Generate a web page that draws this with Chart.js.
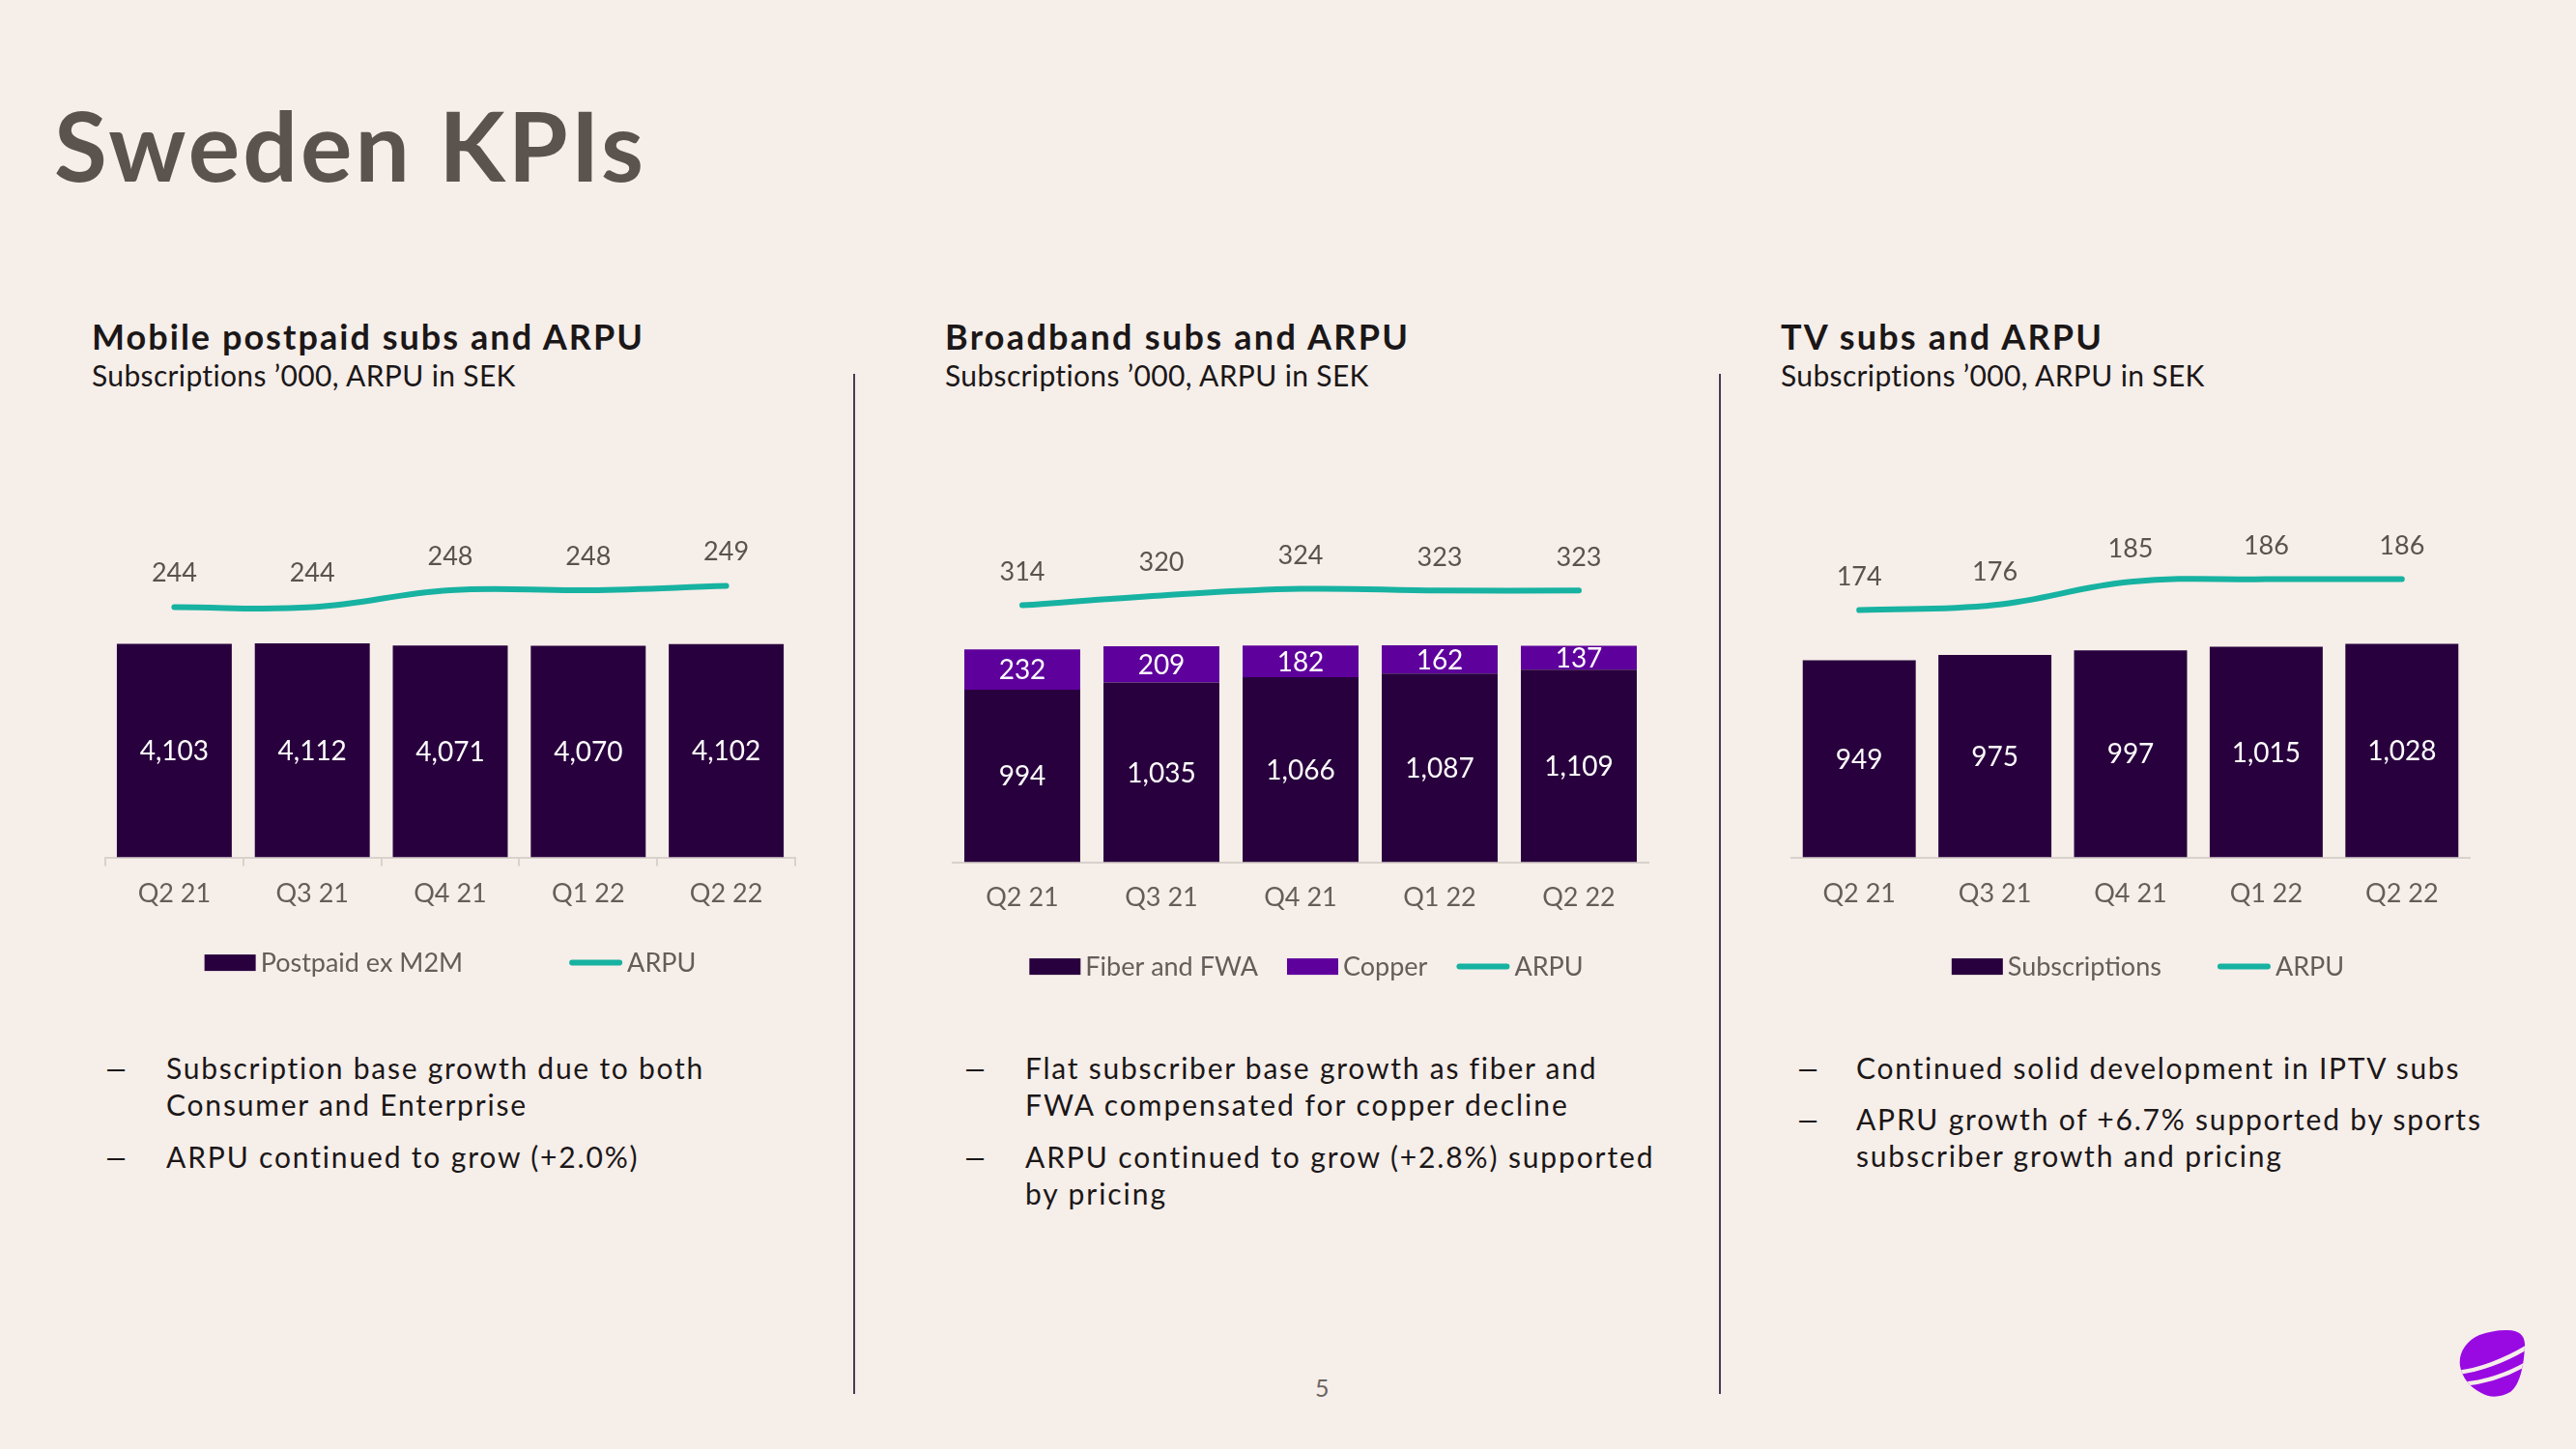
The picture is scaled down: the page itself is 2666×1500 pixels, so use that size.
<!DOCTYPE html>
<html><head><meta charset="utf-8">
<script src="https://cdn.jsdelivr.net/npm/chart.js@4.4.1/dist/chart.umd.min.js"></script>
<style>
html,body{margin:0;padding:0}
body{width:2666px;height:1500px;background:#f6eee9;position:relative;overflow:hidden;font-family:Lato,'Open Sans',sans-serif}
.t{position:absolute;white-space:nowrap;line-height:1.2}
.h{font-size:36px;font-weight:700;color:#1b1718}
.s{font-size:30px;font-weight:400;color:#1b1718}
.b{font-size:30px;line-height:38px;color:#1b1718}
.d{display:inline-block;transform:scaleX(1.5);transform-origin:left center}
canvas{position:absolute;left:0;top:0}
.vline{position:absolute;width:2px;background:#4a3a55}
</style></head><body>

<div class="t fit" data-w="610" style="left:56px;top:89px;font-size:100px;font-weight:700;color:#5b534e">Sweden KPIs</div>

<div class="t h fit" data-w="570" style="left:95px;top:327px">Mobile postpaid subs and ARPU</div>
<div class="t s fit" data-w="439" style="left:95px;top:370px">Subscriptions ’000, ARPU in SEK</div>
<div class="t h fit" data-w="479" style="left:978px;top:327px">Broadband subs and ARPU</div>
<div class="t s fit" data-w="439" style="left:978px;top:370px">Subscriptions ’000, ARPU in SEK</div>
<div class="t h fit" data-w="332" style="left:1843px;top:327px">TV subs and ARPU</div>
<div class="t s fit" data-w="439" style="left:1843px;top:370px">Subscriptions ’000, ARPU in SEK</div>

<div class="vline" style="left:883px;top:387px;height:1056px"></div>
<div class="vline" style="left:1779px;top:387px;height:1056px"></div>

<canvas id="c1" width="734" height="520"></canvas>
<canvas id="c2" width="740" height="520"></canvas>
<canvas id="c3" width="722" height="520"></canvas>

<!-- bullets panel 1 -->
<div class="t b" style="left:107px;top:1086px"><span class="d">–</span></div>
<div class="t b fit" data-w="556" style="left:172px;top:1086px">Subscription base growth due to both</div>
<div class="t b fit" data-w="372" style="left:172px;top:1124px">Consumer and Enterprise</div>
<div class="t b" style="left:107px;top:1178px"><span class="d">–</span></div>
<div class="t b fit" data-w="488" style="left:172px;top:1178px">ARPU continued to grow (+2.0%)</div>
<!-- bullets panel 2 -->
<div class="t b" style="left:996px;top:1086px"><span class="d">–</span></div>
<div class="t b fit" data-w="590" style="left:1061px;top:1086px">Flat subscriber base growth as fiber and</div>
<div class="t b fit" data-w="561" style="left:1061px;top:1124px">FWA compensated for copper decline</div>
<div class="t b" style="left:996px;top:1178px"><span class="d">–</span></div>
<div class="t b fit" data-w="650" style="left:1061px;top:1178px">ARPU continued to grow (+2.8%) supported</div>
<div class="t b fit" data-w="145" style="left:1061px;top:1216px">by pricing</div>
<!-- bullets panel 3 -->
<div class="t b" style="left:1858px;top:1086px"><span class="d">–</span></div>
<div class="t b fit" data-w="624" style="left:1921px;top:1086px">Continued solid development in IPTV subs</div>
<div class="t b" style="left:1858px;top:1139px"><span class="d">–</span></div>
<div class="t b fit" data-w="646" style="left:1921px;top:1139px">APRU growth of +6.7% supported by sports</div>
<div class="t b fit" data-w="440" style="left:1921px;top:1177px">subscriber growth and pricing</div>

<div class="t" style="left:1361px;top:1421px;font-size:25px;color:#6b6461">5</div>

<svg style="position:absolute;left:2544px;top:1376px" width="72" height="72" viewBox="0 0 72 72">
  <defs><clipPath id="pb"><path d="M49,1 C62,0 70,6 69,18 C68,38 64,58 54,65 C44,71 32,71 24,66 C12,60 4,50 2,38 C0,25 8,12 22,6 C30,3 40,1 49,1 Z"/></clipPath></defs>
  <g clip-path="url(#pb)">
    <rect x="0" y="0" width="72" height="72" fill="#990ae3"/>
    <path d="M-2,45 C20,43 48,33 74,17" stroke="#f6eee9" stroke-width="4.5" fill="none"/>
    <path d="M4,57 C28,55 52,47 74,34" stroke="#f6eee9" stroke-width="4.5" fill="none"/>
  </g>
</svg>

<script>
// ---------- data ----------
const categories = ['Q2 21', 'Q3 21', 'Q4 21', 'Q1 22', 'Q2 22'];
const mobileSubs = [4103, 4112, 4071, 4070, 4102];
const mobileArpu = [244, 244, 248, 248, 249];
const bbFiber = [994, 1035, 1066, 1087, 1109];
const bbCopper = [232, 209, 182, 162, 137];
const bbArpu = [314, 320, 324, 323, 323];
const tvSubs = [949, 975, 997, 1015, 1028];
const tvArpu = [174, 176, 185, 186, 186];

// ---------- fit text widths ----------
document.querySelectorAll('.fit').forEach(el => {
  const target = +el.dataset.w;
  el.style.letterSpacing = '0px';
  const w = el.getBoundingClientRect().width;
  const n = el.textContent.length;
  let ls = (target - w) / Math.max(1, n - 1);
  ls = Math.max(-4, Math.min(8, ls));
  el.style.letterSpacing = ls.toFixed(2) + 'px';
});

// ---------- styles ----------
const DARK = '#29003e', COPPER = '#5e009c', TEAL = '#17b2a1';
const AXIS = '#d8d1cc', GRAY = '#655d59', LABEL = '#5a524e';
Chart.defaults.font.family = 'Lato, "Open Sans", sans-serif';

const valueLabels = {
  id: 'valueLabels',
  afterDatasetsDraw(chart, args, opts) {
    const ctx = chart.ctx;
    ctx.save();
    ctx.textAlign = 'center';
    ctx.textBaseline = 'middle';
    chart.data.datasets.forEach((ds, i) => {
      const meta = chart.getDatasetMeta(i);
      meta.data.forEach((el, j) => {
        const txt = ds.data[j].toLocaleString('en-US');
        if (ds.type === 'line') {
          ctx.fillStyle = LABEL;
          ctx.font = '27px Lato, "Open Sans", sans-serif';
          ctx.fillText(txt, el.x, el.y - opts.lineOffset);
        } else {
          const p = el.getProps(['x', 'y', 'base'], true);
          ctx.fillStyle = '#ffffff';
          ctx.font = '28px Lato, "Open Sans", sans-serif';
          ctx.fillText(txt, p.x, (p.y + p.base) / 2 + 1);
        }
      });
    });
    ctx.restore();
  }
};

const customLegend = {
  id: 'customLegend',
  afterDraw(chart, args, opts) {
    const ctx = chart.ctx, a = chart.chartArea;
    ctx.save();
    ctx.font = '27px Lato, "Open Sans", sans-serif';
    ctx.textBaseline = 'middle';
    const items = chart.data.datasets.map(ds => {
      const isLine = ds.type === 'line';
      return { text: ds.label, isLine, color: isLine ? ds.borderColor : ds.backgroundColor,
               sw: isLine ? 55 : 53, tw: ctx.measureText(ds.label).width };
    });
    const gapText = 5;
    let total = 0;
    items.forEach((it, k) => { total += it.sw + gapText + it.tw + (k ? opts.gap : 0); });
    let x = (a.left + a.right) / 2 - total / 2 + (opts.shift || 0);
    const y = a.bottom + opts.offset;
    items.forEach(it => {
      if (it.isLine) {
        ctx.strokeStyle = it.color; ctx.lineWidth = 6; ctx.lineCap = 'round';
        ctx.beginPath(); ctx.moveTo(x + 3, y); ctx.lineTo(x + it.sw - 3, y); ctx.stroke();
      } else {
        ctx.fillStyle = it.color; ctx.fillRect(x, y - 8.5, it.sw, 17);
      }
      x += it.sw + gapText;
      ctx.fillStyle = GRAY; ctx.textAlign = 'left';
      ctx.fillText(it.text, x, y + 1);
      x += it.tw + opts.gap;
    });
    ctx.restore();
  }
};

function makeChart(id, bars, arpu, opt) {
  const datasets = bars.map(b => ({
    type: 'bar', label: b.label, data: b.data, backgroundColor: b.color,
    yAxisID: 'y', categoryPercentage: 1, barPercentage: 0.833, borderWidth: 0
  }));
  datasets.push({
    type: 'line', label: 'ARPU', data: arpu, yAxisID: 'y2', borderColor: TEAL,
    backgroundColor: TEAL, borderWidth: 6, tension: 0.4, pointRadius: 0,
    borderCapStyle: 'round', fill: false, clip: false
  });
  const chart = new Chart(document.getElementById(id), {
    data: { labels: categories, datasets },
    options: {
      responsive: false, animation: false, events: [],
      layout: { padding: { left: 10, right: 10, top: 10, bottom: 80 } },
      plugins: {
        legend: { display: false }, tooltip: { enabled: false },
        valueLabels: { lineOffset: opt.lineOffset },
        customLegend: { offset: opt.legOffset, gap: opt.legGap, shift: opt.legShift }
      },
      scales: {
        x: {
          stacked: true, offset: true,
          grid: { display: opt.ticks, drawOnChartArea: false, drawTicks: opt.ticks, tickLength: 9,
                  color: AXIS, lineWidth: 2, offset: true },
          border: { display: true, color: AXIS, width: 2 },
          ticks: { padding: opt.tickPad, color: GRAY, font: { size: 27 } }
        },
        y: { display: false, stacked: true, min: 0, max: 1 },
        y2: { display: false, min: 0, max: 1 }
      }
    },
    plugins: [valueLabels, customLegend]
  });
  // calibrate axis ranges and place the canvas on the slide
  const a = chart.chartArea, H = a.bottom - a.top, cal = opt.cal;
  chart.options.scales.y.max = cal.barVal * H / cal.barPx;
  const k2 = (cal.arpuPx[1] - cal.arpuPx[0]) / (cal.arpuVal[1] - cal.arpuVal[0]);
  const mn = cal.arpuVal[0] - cal.arpuPx[0] / k2;
  chart.options.scales.y2.min = mn;
  chart.options.scales.y2.max = mn + H / k2;
  chart.update('none');
  const c = chart.canvas;
  c.style.left = (cal.left - a.left) + 'px';
  c.style.top = (cal.bottom - a.bottom) + 'px';
  return chart;
}

makeChart('c1', [{ label: 'Postpaid ex M2M', data: mobileSubs, color: DARK }], mobileArpu, {
  ticks: true, tickPad: 12, lineOffset: 35, legOffset: 109, legGap: 110, legShift: 0,
  cal: { left: 109, bottom: 888, barVal: 4103, barPx: 221, arpuVal: [244, 249], arpuPx: [259, 281] }
});
makeChart('c2', [{ label: 'Fiber and FWA', data: bbFiber, color: DARK },
                 { label: 'Copper', data: bbCopper, color: COPPER }], bbArpu, {
  ticks: false, tickPad: 20, lineOffset: 34, legOffset: 108, legGap: 30, legShift: 6,
  cal: { left: 986, bottom: 893, barVal: 1246, barPx: 224, arpuVal: [314, 324], arpuPx: [266, 283] }
});
makeChart('c3', [{ label: 'Subscriptions', data: tvSubs, color: DARK }], tvArpu, {
  ticks: false, tickPad: 21, lineOffset: 34, legOffset: 113, legGap: 58, legShift: 18,
  cal: { left: 1854, bottom: 888, barVal: 1028, barPx: 221, arpuVal: [174, 186], arpuPx: [256, 288] }
});
</script>
</body></html>
